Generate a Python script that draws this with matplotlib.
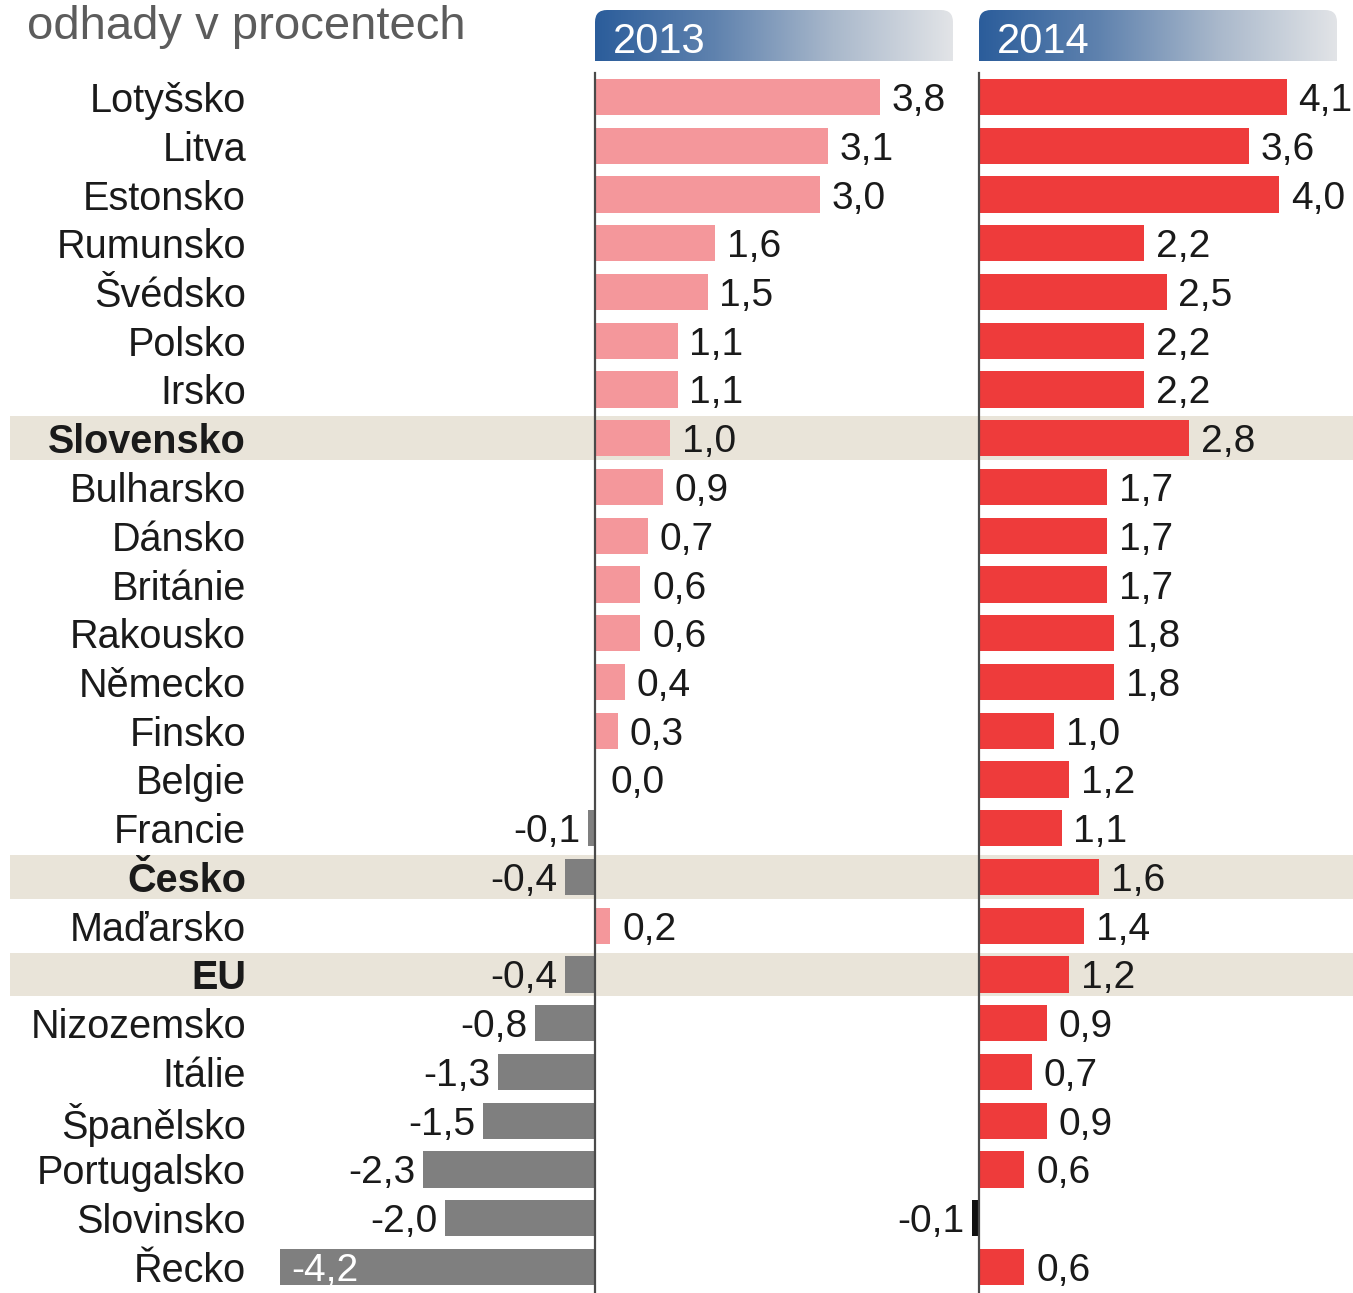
# -*- coding: utf-8 -*-

import numpy as np
import matplotlib
matplotlib.use('Agg')
import matplotlib.pyplot as plt
from matplotlib.patches import FancyBboxPatch
from matplotlib.transforms import blended_transform_factory

plt.rcParams['font.family'] = ['Liberation Sans', 'DejaVu Sans']

# data
countries = ['Lotyšsko', 'Litva', 'Estonsko', 'Rumunsko', 'Švédsko', 'Polsko',
             'Irsko', 'Slovensko', 'Bulharsko', 'Dánsko', 'Británie', 'Rakousko',
             'Německo', 'Finsko', 'Belgie', 'Francie', 'Česko', 'Maďarsko', 'EU',
             'Nizozemsko', 'Itálie', 'Španělsko', 'Portugalsko', 'Slovinsko', 'Řecko']
growth_2013 = [3.8, 3.1, 3.0, 1.6, 1.5, 1.1, 1.1, 1.0, 0.9, 0.7, 0.6, 0.6, 0.4,
               0.3, 0.0, -0.1, -0.4, 0.2, -0.4, -0.8, -1.3, -1.5, -2.3, -2.0, -4.2]
growth_2014 = [4.1, 3.6, 4.0, 2.2, 2.5, 2.2, 2.2, 2.8, 1.7, 1.7, 1.7, 1.8, 1.8,
               1.0, 1.2, 1.1, 1.6, 1.4, 1.2, 0.9, 0.7, 0.9, 0.6, -0.1, 0.6]
highlighted = ['Slovensko', 'Česko', 'EU']
years = ['2013', '2014']
subtitle = 'odhady v procentech'

W, H = 1353, 1293
PX_PER_UNIT = 75.0
LABEL_FS = 28.5
VALUE_FS = 28


def px_rect(x0, y0, x1, y1):
    '''
    Pixel box (top-left origin) to figure fraction rect
    '''
    return [x0 / W, 1 - y1 / H, (x1 - x0) / W, (y1 - y0) / H]


def fmt(v):
    return ('%.1f' % v).replace('.', ',')


fig = plt.figure(figsize=(W / 100, H / 100), dpi=100)

n = len(countries)
rows = np.arange(n)
row_top, row_bot = 73, 1293
first_c, step = 97, 48.75
ylim = ((row_bot - first_c) / step, (row_top - first_c) / step)

# highlight bands across full width
axbg = fig.add_axes(px_rect(10, row_top, W, row_bot))
axbg.set_xlim(0, 1)
axbg.set_ylim(*ylim)
for i, c in enumerate(countries):
    if c in highlighted:
        axbg.axhspan(i - 0.45, i + 0.45, color='#e9e4d9', lw=0)
axbg.axis('off')

# (axes left px, zero px, axes right px, values, colours)
panels = [
    (250, 595, 975, growth_2013, '#f4979b', '#7f7f7f'),
    (979, 979, W, growth_2014, '#ee3b3b', '#111111'),
]

axes = []
for a0, zero, a1, vals, c_pos, c_neg in panels:
    ax = fig.add_axes(px_rect(a0, row_top, a1, row_bot))
    left = (a0 - zero) / PX_PER_UNIT
    right = (a1 - zero) / PX_PER_UNIT
    ax.set_xlim(left, right)
    ax.set_ylim(*ylim)
    ax.patch.set_alpha(0)
    vals = np.array(vals)
    colors = [c_pos if v >= 0 else c_neg for v in vals]
    ax.barh(rows, vals, height=0.74, color=colors, lw=0, clip_on=False)
    ax.axvline(0, ymin=0, ymax=1, color='#4a4a4a', lw=1.6, clip_on=False)
    for i, v in enumerate(vals):
        if v > 0:
            ax.text(v + 0.16, i, fmt(v), ha='left', va='center_baseline',
                    fontsize=VALUE_FS, color='#1a1a1a', clip_on=False)
        elif v == 0:
            ax.text(0.2, i, fmt(v), ha='left', va='center_baseline',
                    fontsize=VALUE_FS, color='#1a1a1a')
        elif v < -4:
            # no room on the left, write inside the bar
            ax.text(v + 0.15, i, fmt(v), ha='left', va='center_baseline',
                    fontsize=VALUE_FS, color='white')
        else:
            ax.text(v - 0.1, i, fmt(v), ha='right', va='center_baseline',
                    fontsize=VALUE_FS, color='#1a1a1a', clip_on=False)
    ax.axis('off')
    axes.append(ax)

# country labels
trans = blended_transform_factory(fig.transFigure, axes[0].transData)
for i, c in enumerate(countries):
    axes[0].text(246 / W, i, c, transform=trans, ha='right', va='center_baseline',
                 fontsize=LABEL_FS, color='#1a1a1a',
                 fontweight='bold' if c in highlighted else 'normal')

# year headers with gradient
grad = np.linspace(0, 1, 256).reshape(1, -1)
cmap = matplotlib.colors.LinearSegmentedColormap.from_list(
    'hdr', ['#2b5d9b', '#5f82ae', '#a9b8cb', '#e2e4e7'])
for (x0, x1), yr in zip([(595, 953), (979, 1337)], years):
    axh = fig.add_axes(px_rect(x0, 10, x1, 61))
    w, h = x1 - x0, 51
    axh.set_xlim(0, w)
    axh.set_ylim(0, h)
    clip = FancyBboxPatch((0, -30), w, h + 30,
                          boxstyle='round,pad=0,rounding_size=12',
                          transform=axh.transData)
    im = axh.imshow(grad, extent=[0, w, 0, h], aspect='auto', cmap=cmap)
    im.set_clip_path(clip)
    axh.text(18, h / 2 - 2, yr, color='white', fontsize=30, ha='left',
             va='center_baseline')
    axh.axis('off')

fig.text(27 / W, 1 - 39 / H, subtitle, fontsize=34, color='#5c5c5c',
         ha='left', va='baseline')

fig.savefig('out.png', dpi=100)
